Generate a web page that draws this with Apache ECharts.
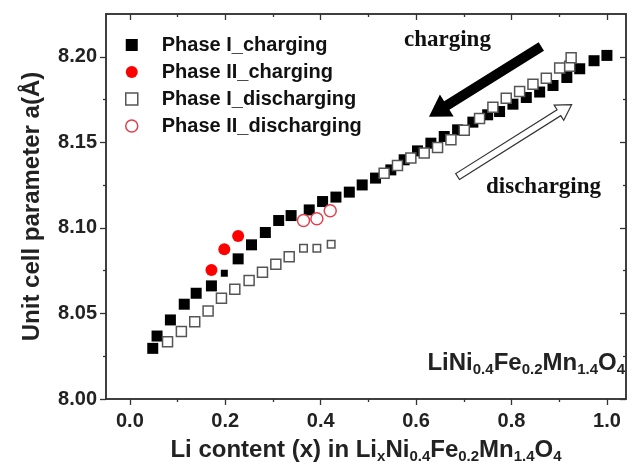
<!DOCTYPE html>
<html>
<head>
<meta charset="utf-8">
<script src="https://cdn.jsdelivr.net/npm/echarts@6/dist/echarts.min.js"></script>
<style>
  html, body { margin: 0; padding: 0; background: #fff; }
  #chart { width: 633px; height: 472px; }
</style>
</head>
<body>
<div id="chart"></div>
<script>
// 刻度
const xTicks = [0, 0.2, 0.4, 0.6, 0.8, 1.0]
const xMinorTicks = [0.1, 0.3, 0.5, 0.7, 0.9]
const yTicks = [8.00, 8.05, 8.10, 8.15, 8.20]
const yMinorTicks = [8.025, 8.075, 8.125, 8.175]

// Phase I 充电 (实心方块)
const phase1Charge = [
  [0.048, 8.0296], [0.057, 8.0368], [0.085, 8.0462], [0.114, 8.0554], [0.139, 8.0618],
  [0.171, 8.0661], [0.227, 8.0819], [0.255, 8.0901], [0.284, 8.0973], [0.312, 8.1043],
  [0.338, 8.1072], [0.376, 8.1105], [0.404, 8.1154], [0.432, 8.1180], [0.460, 8.1209],
  [0.487, 8.1251], [0.515, 8.1291], [0.547, 8.1339], [0.575, 8.1398], [0.603, 8.1450],
  [0.631, 8.1495], [0.659, 8.1534], [0.687, 8.1573], [0.719, 8.1618], [0.750, 8.1661],
  [0.775, 8.1680], [0.803, 8.1723], [0.831, 8.1762], [0.859, 8.1794], [0.887, 8.1832],
  [0.916, 8.1879], [0.943, 8.1930], [0.973, 8.1977], [1.000, 8.2008]
]
const phase1ChargeSmall = [[0.198, 8.0735]]

// Phase II 充电 (红色实心圆)
const phase2Charge = [[0.171, 8.0754], [0.198, 8.0875], [0.227, 8.0953]]

// Phase I 放电 (空心方块)
const phase1Discharge = [
  [0.079, 8.0335], [0.108, 8.0394], [0.136, 8.0452], [0.164, 8.0515], [0.192, 8.0589],
  [0.220, 8.0641], [0.250, 8.0692], [0.278, 8.0741], [0.306, 8.0788], [0.334, 8.0832],
  [0.533, 8.1320], [0.561, 8.1364], [0.589, 8.1408], [0.617, 8.1437], [0.645, 8.1470],
  [0.673, 8.1515], [0.701, 8.1570], [0.733, 8.1640], [0.761, 8.1705], [0.789, 8.1758],
  [0.817, 8.1797], [0.845, 8.1840], [0.873, 8.1875], [0.901, 8.1934], [0.922, 8.1945],
  [0.925, 8.1995]
]
const phase1DischargeSmall = [[0.364, 8.0881], [0.392, 8.0881], [0.422, 8.0905]]

// Phase II 放电 (红色空心圆)
const phase2Discharge = [[0.364, 8.1043], [0.392, 8.1053], [0.420, 8.1100]]

// 箭头 (数据坐标: 尾 -> 头)
const chargeArrow = [[0.8625, 8.206], [0.627, 8.165]]
const dischargeArrow = [[0.687, 8.130], [0.926, 8.172]]

const FONT = '"Liberation Sans", Arial, sans-serif'
const SERIF = '"Liberation Serif", "Times New Roman", serif'
const AXIS_COLOR = '#333'

const chart = echarts.init(document.getElementById('chart'))

function xAxisCfg(position, values, length, inside, withLabel) {
  return {
    type: 'value',
    position,
    min: -0.05,
    max: 1.04,
    splitLine: { show: false },
    axisLine: { show: true, onZero: false, lineStyle: { color: AXIS_COLOR, width: 1.5 } },
    axisTick: { show: true, inside, length, customValues: values, lineStyle: { color: AXIS_COLOR, width: 1.3 } },
    axisLabel: withLabel
      ? { show: true, customValues: values, formatter: v => v.toFixed(1), fontFamily: FONT, fontWeight: 'bold', fontSize: 20, color: '#222', margin: 12 }
      : { show: false }
  }
}

function yAxisCfg(position, values, length, inside, withLabel) {
  return {
    type: 'value',
    position,
    min: 8.0,
    max: 8.225,
    splitLine: { show: false },
    axisLine: { show: true, onZero: false, lineStyle: { color: AXIS_COLOR, width: 1.5 } },
    axisTick: { show: true, inside, length, customValues: values, lineStyle: { color: AXIS_COLOR, width: 1.3 } },
    axisLabel: withLabel
      ? { show: true, customValues: values, formatter: v => v.toFixed(2), fontFamily: FONT, fontWeight: 'bold', fontSize: 20, color: '#222', margin: 9 }
      : { show: false }
  }
}

const subStyle = { fontFamily: FONT, fontWeight: 'bold', fontSize: 15, color: '#222', lineHeight: 12, verticalAlign: 'bottom', padding: [12, 0, 0, 0] }

const xMain = xAxisCfg('bottom', xTicks, 6, false, true)
xMain.name = 'Li content (x) in Li{s|x}Ni{s|0.4}Fe{s|0.2}Mn{s|1.4}O{s|4}'
xMain.nameLocation = 'middle'
xMain.nameGap = 35
xMain.nameTextStyle = {
  fontFamily: FONT, fontWeight: 'bold', fontSize: 24, color: '#222', lineHeight: 28,
  rich: { s: subStyle }
}

const yMain = yAxisCfg('left', yTicks, 6, false, true)
yMain.name = 'Unit cell parameter a(Å)'
yMain.nameLocation = 'middle'
yMain.nameGap = 62
yMain.nameTextStyle = { fontFamily: FONT, fontWeight: 'bold', fontSize: 24, color: '#222' }

const option = {
  animation: false,
  backgroundColor: '#fff',
  grid: { left: 106, right: 7, top: 14, bottom: 73 },
  xAxis: [
    xMain,
    xAxisCfg('bottom', xMinorTicks, 3, false, false),
    xAxisCfg('top', xTicks, 6, true, false),
    xAxisCfg('top', xMinorTicks, 3, true, false)
  ],
  yAxis: [
    yMain,
    yAxisCfg('left', yMinorTicks, 3, false, false),
    yAxisCfg('right', yTicks, 6, true, false),
    yAxisCfg('right', yMinorTicks, 3, true, false)
  ],
  legend: {
    orient: 'vertical',
    left: 120,
    top: 30,
    itemWidth: 12,
    itemHeight: 12,
    itemGap: 7,
    textStyle: { fontFamily: FONT, fontWeight: 'bold', fontSize: 20, color: '#111', padding: [0, 0, 0, 19] },
    data: [
      { name: 'Phase I_charging', icon: 'rect', itemStyle: { color: '#000', opacity: 1 } },
      { name: 'Phase II_charging', icon: 'circle', itemStyle: { color: '#ff0000', opacity: 1 } },
      { name: 'Phase I_discharging', icon: 'rect', itemStyle: { color: '#fff', borderColor: '#555', borderWidth: 1.5, opacity: 1 } },
      { name: 'Phase II_discharging', icon: 'circle', itemStyle: { color: '#fff', borderColor: '#e2404e', borderWidth: 1.5, opacity: 1 } }
    ]
  },
  series: [
    {
      name: 'Phase I_charging', type: 'scatter', symbol: 'rect', symbolSize: 11,
      itemStyle: { color: '#000', opacity: 1 }, data: phase1Charge
    },
    {
      name: 'Phase I_charging', type: 'scatter', symbol: 'rect', symbolSize: 7,
      itemStyle: { color: '#000', opacity: 1 }, data: phase1ChargeSmall
    },
    {
      name: 'Phase II_charging', type: 'scatter', symbol: 'circle', symbolSize: 12,
      itemStyle: { color: '#ff0000', opacity: 1 }, data: phase2Charge
    },
    {
      name: 'Phase I_discharging', type: 'scatter', symbol: 'rect', symbolSize: 10,
      itemStyle: { color: '#fff', borderColor: '#555', borderWidth: 1.5, opacity: 1 }, data: phase1Discharge
    },
    {
      name: 'Phase I_discharging', type: 'scatter', symbol: 'rect', symbolSize: 7.5,
      itemStyle: { color: '#fff', borderColor: '#555', borderWidth: 1.5, opacity: 1 }, data: phase1DischargeSmall
    },
    {
      name: 'Phase II_discharging', type: 'scatter', symbol: 'circle', symbolSize: 12,
      itemStyle: { color: '#fff', borderColor: '#e2404e', borderWidth: 1.5, opacity: 1 }, data: phase2Discharge
    }
  ]
}

chart.setOption(option)

// 箭头多边形
function arrowPoints(tail, tip, shaftHalf, headHalf, headLen) {
  const dx = tip[0] - tail[0]
  const dy = tip[1] - tail[1]
  const len = Math.sqrt(dx * dx + dy * dy)
  const ux = dx / len, uy = dy / len
  const nx = -uy, ny = ux
  const bx = tip[0] - ux * headLen, by = tip[1] - uy * headLen
  return [
    [tail[0] + nx * shaftHalf, tail[1] + ny * shaftHalf],
    [bx + nx * shaftHalf, by + ny * shaftHalf],
    [bx + nx * headHalf, by + ny * headHalf],
    [tip[0], tip[1]],
    [bx - nx * headHalf, by - ny * headHalf],
    [bx - nx * shaftHalf, by - ny * shaftHalf],
    [tail[0] - nx * shaftHalf, tail[1] - ny * shaftHalf]
  ]
}

const toPx = p => chart.convertToPixel({ xAxisIndex: 0, yAxisIndex: 0 }, p)
const cTail = toPx(chargeArrow[0]), cTip = toPx(chargeArrow[1])
const dTail = toPx(dischargeArrow[0]), dTip = toPx(dischargeArrow[1])

chart.setOption({
  graphic: [
    {
      type: 'polygon', z: 10,
      shape: { points: arrowPoints(cTail, cTip, 5, 13, 21) },
      style: { fill: '#000' }
    },
    {
      type: 'polygon', z: 10,
      shape: { points: arrowPoints(dTail, dTip, 3.5, 9, 15) },
      style: { fill: '#fff', stroke: '#333', lineWidth: 1.2 }
    },
    {
      type: 'text', z: 10, left: 404, top: 29,
      style: { text: 'charging', fontFamily: SERIF, fontWeight: 'bold', fontSize: 23, fill: '#111' }
    },
    {
      type: 'text', z: 10, left: 486, top: 176,
      style: { text: 'discharging', fontFamily: SERIF, fontWeight: 'bold', fontSize: 23, fill: '#111' }
    },
    {
      type: 'text', z: 10, right: 8, top: 349,
      style: {
        text: 'LiNi{s|0.4}Fe{s|0.2}Mn{s|1.4}O{s|4}',
        fontFamily: FONT, fontWeight: 'bold', fontSize: 24, fill: '#222', lineHeight: 28,
        rich: {
          s: { fontFamily: FONT, fontWeight: 'bold', fontSize: 15, fill: '#222', lineHeight: 12, verticalAlign: 'bottom', padding: [12, 0, 0, 0] }
        }
      }
    }
  ]
})
</script>
</body>
</html>
